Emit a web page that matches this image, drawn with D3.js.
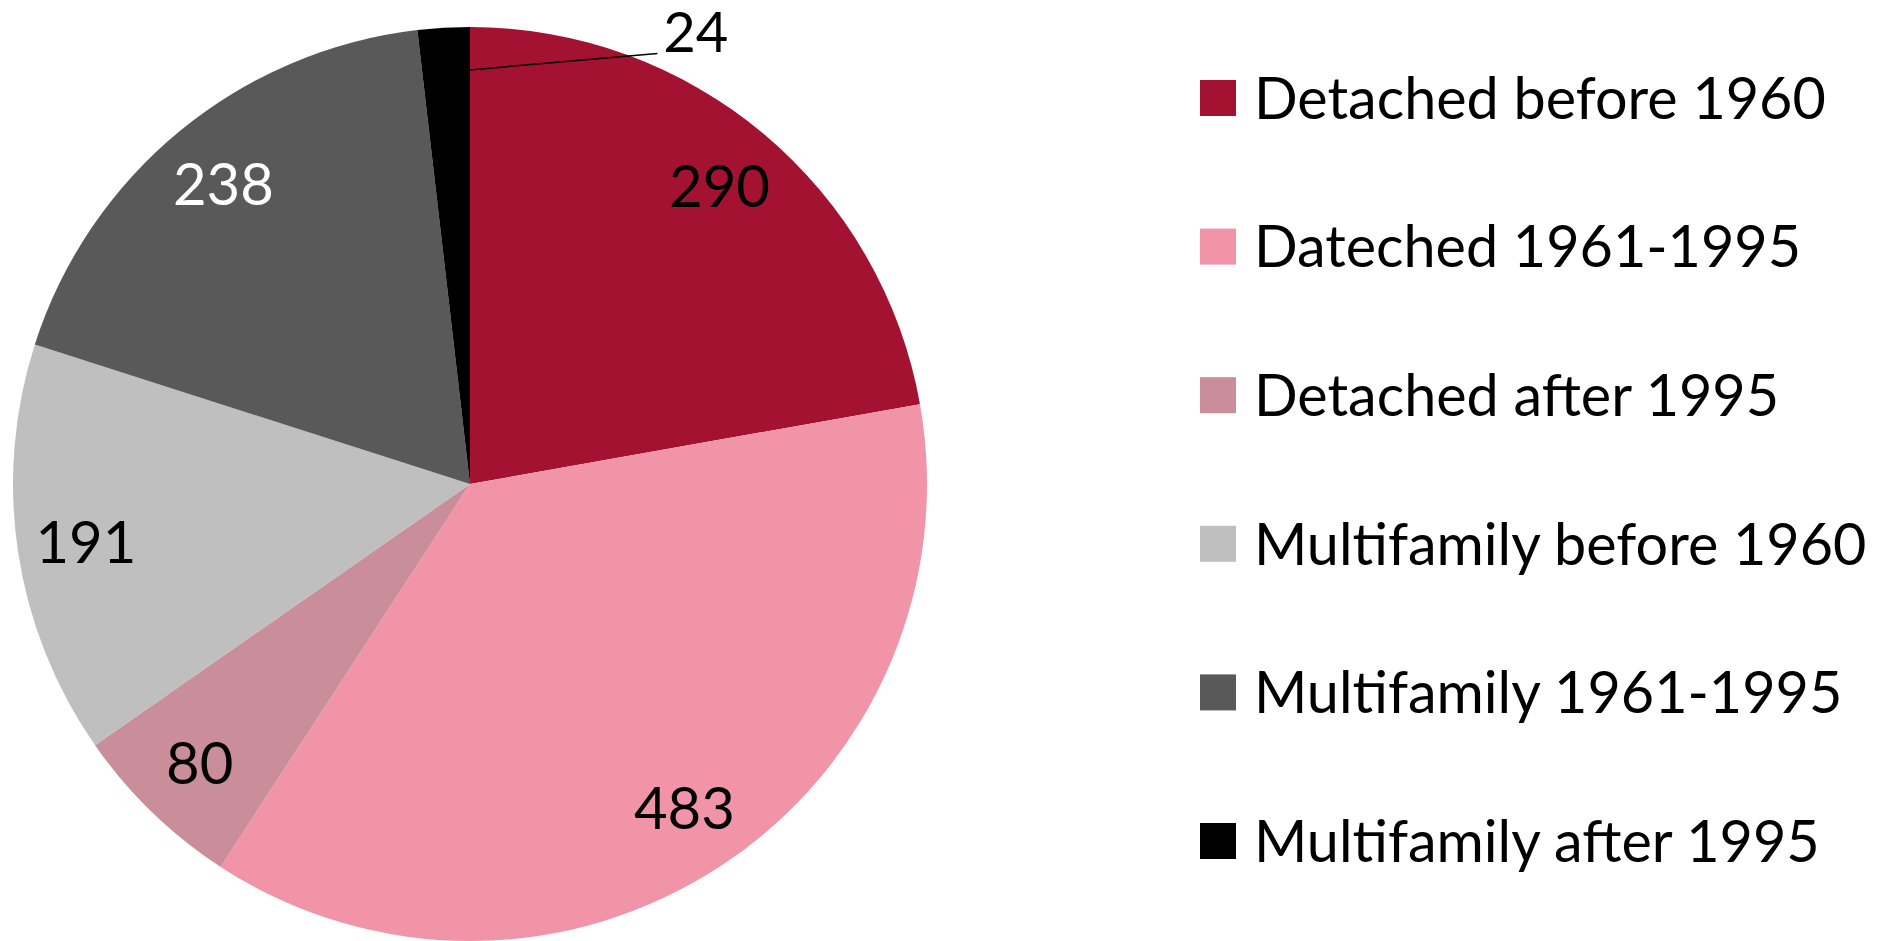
<!DOCTYPE html>
<html>
<head>
<meta charset="utf-8">
<script src="https://cdn.jsdelivr.net/npm/d3@7"></script>
<style>
  body { margin: 0; background: #fff; }
  text { font-family: Lato, "Open Sans", sans-serif; }
</style>
</head>
<body>
<svg id="pie"></svg>
<script>
// chart data
var categories = ["Detached before 1960", "Dateched 1961-1995", "Detached after 1995",
                  "Multifamily before 1960", "Multifamily 1961-1995", "Multifamily after 1995"];
var values = [290, 483, 80, 191, 238, 24];
var colors = ["#a31230", "#f294a8", "#c98e9a", "#bfbfbf", "#595959", "#000000"];
var labelColors = ["#000", "#000", "#000", "#000", "#fff", "#000"];

var width = 1895, height = 941;
var cx = 470, cy = 484, radius = 457;

var svg = d3.select("#pie")
            .attr("width", width)
            .attr("height", height);

var data = categories.map((c, i) => ({ name: c, value: values[i], color: colors[i], label: labelColors[i] }));

var pie = d3.pie().sort(null).value(d => d.value);
var arcs = pie(data);

var arc = d3.arc().innerRadius(0).outerRadius(radius);
var labelArc = d3.arc().innerRadius(radius * 0.85).outerRadius(radius * 0.85);

var g = svg.append("g").attr("transform", "translate(" + cx + "," + cy + ")");

g.selectAll("path")
  .data(arcs)
  .enter()
  .append("path")
    .attr("d", arc)
    .attr("fill", d => d.data.color);

var total = d3.sum(values);

// labels inside big slices, small slice gets a leader line
arcs.forEach(function(d) {
  var small = d.data.value / total < 0.03;
  if (!small) {
    var c = labelArc.centroid(d);
    g.append("text")
      .attr("x", c[0])
      .attr("y", c[1])
      .attr("dy", "0.36em")
      .attr("text-anchor", "middle")
      .attr("font-size", 58)
      .attr("fill", d.data.label)
      .text(d.data.value);
  } else {
    var a = d.endAngle;
    var r0 = radius * 0.906;
    var x0 = r0 * Math.sin(a), y0 = -r0 * Math.cos(a);
    var x1 = radius * 0.41, y1 = -radius * 0.942;
    g.append("line")
      .attr("x1", x0).attr("y1", y0)
      .attr("x2", x1).attr("y2", y1)
      .attr("stroke", "#000")
      .attr("stroke-width", 1.5);
    g.append("text")
      .attr("x", x1 + 6)
      .attr("y", y1 - 2)
      .attr("font-size", 56)
      .attr("fill", d.data.label)
      .text(d.data.value);
  }
});

// legend
var legendY = d3.scalePoint()
                .domain(categories)
                .range([98, 841]);

var legend = svg.append("g")
  .selectAll("g")
  .data(data)
  .enter()
  .append("g")
    .attr("transform", d => "translate(1200," + legendY(d.name) + ")");

legend.append("rect")
  .attr("x", 0)
  .attr("y", -18)
  .attr("width", 36)
  .attr("height", 36)
  .attr("fill", d => d.color);

legend.append("text")
  .attr("x", 54)
  .attr("y", 0)
  .attr("dy", "0.36em")
  .attr("font-size", 57.5)
  .attr("fill", "#000")
  .text(d => d.name);
</script>
</body>
</html>
